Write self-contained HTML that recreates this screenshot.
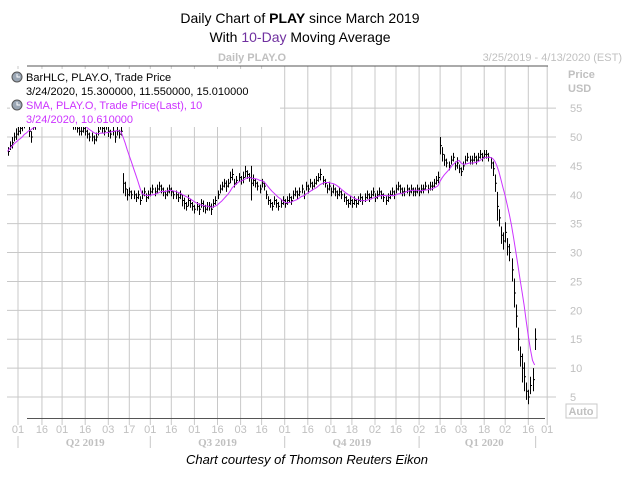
<!DOCTYPE html>
<html><head><meta charset="utf-8">
<style>
body{margin:0;background:#fff;width:629px;height:478px;overflow:hidden;font-family:"Liberation Sans",sans-serif}
svg{display:block}
</style></head>
<body>
<svg id="chart" width="629" height="478" xmlns="http://www.w3.org/2000/svg">
<text x="300" y="23" text-anchor="middle" font-size="14" fill="#000">Daily Chart of <tspan font-weight="bold">PLAY</tspan> since March 2019</text>
<text x="300" y="42" text-anchor="middle" font-size="14" fill="#000">With <tspan fill="#7030a0">10-Day</tspan> Moving Average</text>
<text x="252" y="61" text-anchor="middle" font-size="11" font-weight="bold" fill="#c0c0c0">Daily PLAY.O</text>
<text x="622" y="61" text-anchor="end" font-size="11" fill="#c0c0c0">3/25/2019 - 4/13/2020 (EST)</text>
<text x="568" y="78" font-size="11" font-weight="bold" fill="#c0c0c0">Price</text>
<text x="568" y="92" font-size="11" font-weight="bold" fill="#c0c0c0">USD</text>
<g id="grid"></g>
<g id="bars"></g>
<path id="sma" fill="none" stroke="#cc33ff" stroke-width="1"/>
<g id="axes"></g>
<rect x="10" y="69" width="270" height="58" fill="#fff"/>
<g>
<circle cx="17" cy="77" r="5" fill="#9aa6b4" stroke="#555" stroke-width="1"/>
<path d="M17 74v3h3" stroke="#fff" fill="none"/>
<text x="26" y="81" font-size="11" fill="#000">BarHLC, PLAY.O, Trade Price</text>
<text x="26" y="95" font-size="11" fill="#000">3/24/2020, 15.300000, 11.550000, 15.010000</text>
<circle cx="17" cy="105" r="5" fill="#9aa6b4" stroke="#555" stroke-width="1"/>
<path d="M17 102v3h3" stroke="#fff" fill="none"/>
<text x="26" y="109" font-size="11" fill="#cc33ff">SMA, PLAY.O, Trade Price(Last),  10</text>
<text x="26" y="123" font-size="11" fill="#cc33ff">3/24/2020, 10.610000</text>
</g>
<rect x="566" y="404" width="31" height="14" fill="#fff" stroke="#c8c8c8"/>
<text x="581" y="415" text-anchor="middle" font-size="11" font-weight="bold" fill="#c0c0c0">Auto</text>
<text x="307" y="464" text-anchor="middle" font-size="13" font-style="italic" fill="#000">Chart courtesy of Thomson Reuters Eikon</text>
</svg>
<script>
const closes=[47.5,48.5,49,50,50.5,51,51.5,52,54,53,
51,50,52,52,53,53.5,54,54,53.5,54,
54.5,55,54,53.5,54,54.5,55,54,53.5,53,
52.5,52,52,51.5,51,51,51.5,51,50.5,50,
50,49.5,50,51,52,51.5,51,52,51,50.5,
51,50,51,50.5,51,42,41,40,40.5,40,
40,39.5,40,39,40,40.5,39.5,40,40.5,41,
40.5,41,41.5,41,40.5,40,40.5,41,40.5,40,
40,39.5,40,39,38.5,38,39,38.5,38,37.5,
38,37.5,38.5,38,37.5,38,38,37.5,38.5,39,
40,41,41.5,42,41.5,42,43,43.5,42,42.5,
43,42.5,43,44,43.5,43,42,42.5,42,41.5,
41,42,41.5,40,39,38.5,38,39,38.5,38,
38.5,39,38.5,39,39.5,39,40,40.5,40,40.5,
41,40,41.5,41,42,41.5,42,42.5,43,43.5,
42.5,42,41,41.5,40.5,41,40.5,40,40.5,40,
39.5,39,38.5,39,38.5,39,38.5,39,39.5,39,
39.5,40,39.5,40,40.5,39.5,40,40.5,40,39.5,
39,39.5,40,40.5,40,41,41.5,41,40.5,40.5,
41,40.5,41,40.5,40.5,41,40.5,41,41,41.5,
41,41.5,41.5,42,42.5,43,48.5,47,46,45.5,
45,46,46.5,45,45.5,44.5,44,45,46,46.5,
46,46,46.5,46,46.5,47,46.5,47,47,46.5,
45.5,44.5,42,38,36,33,32,33.5,31,30,
27,23,19,15,12,10,8.5,6,5,7,8,15];
const ranges=[1.5,1.5,2,1.5,2,1.5,2,2,5,2,
2,2,1.5,1.5,2,1.5,1.5,1.5,1.5,1.5,
1.5,1.5,1.5,1.5,1.5,1.5,1.5,1.5,1.5,1.5,
1.5,1.5,1.5,1.5,1.5,1.5,1.5,1.5,1.5,1.5,
1.5,1.5,1.5,1.5,1.5,1.5,1.5,1.5,2,1.5,
1.5,2,1.5,1.5,1.5,3.5,2.5,2,1.5,1.5,
1.5,1.5,1.5,1.5,1.5,1.5,1.5,1.5,1.5,1.5,
1.5,1.5,1.5,1.5,1.5,1.5,1.5,1.5,1.5,1.5,
1.5,1.5,1.5,2,2,1.5,2,1.5,1.5,1.5,
1.5,2,1.5,2,1.5,1.5,1.5,2,1.5,1.5,
1.5,1.5,1.5,1.5,2,1.5,2,2,1.5,1.5,
1.5,1.5,2,2,1.5,1.5,6,2,1.5,1.5,
1.5,1.5,1.5,1.5,1.5,1.5,1.5,1.5,1.5,1.5,
1.5,1.5,1.5,1.5,1.5,1.5,1.5,1.5,1.5,1.5,
1.5,1.5,1.5,1.5,1.5,1.5,1.5,1.5,1.5,2,
1.5,1.5,1.5,1.5,1.5,1.5,1.5,1.5,1.5,1.5,
1.5,1.5,1.5,1.5,1.5,1.5,1.5,1.5,1.5,1.5,
1.5,1.5,1.5,1.5,1.5,1.5,1.5,1.5,1.5,1.5,
1.5,1.5,1.5,1.5,1.5,1.5,1.5,1.5,1.5,1.5,
1.5,1.5,1.5,1.5,1.5,1.5,1.5,1.5,1.5,1.5,
1.5,1.5,1.5,1.5,1.5,2,3,2.5,2,1.5,
1.5,1.5,1.5,1.5,2,1.5,1.5,1.5,1.5,1.5,
1.5,1.5,1.5,1.5,1.5,1.5,1.5,1.5,1.5,1.5,
2,2.5,3,5,3,3,3,3.5,3,3,
4,5,4,4,3.5,5,5,3,2.5,3,4,3.75];
const yTicks=[5,10,15,20,25,30,35,40,45,50,55];
const xTickLabels=["01","16","01","16","03","17","01","16","01","16","03","16","01","16","01","18","02","16","02","16","03","18","02","16","01"];
const xTickIdx=[5,16.4,26,37,48,58,68,78,89,100,111,121,132,143,154,164,175,185,196,206,216,227,237,248,257];
const quarterLabels=["Q2 2019","Q3 2019","Q4 2019","Q1 2020"];
const quarterIdx=[37,100,164,227];
const quarterSepIdx=[5,68,132,196,251.5];

const NS="http://www.w3.org/2000/svg";
const X=i=>7.5+i*2.1;
const Y=v=>397-(v-5)*(260/45);
function mk(tag,attrs,parent){const e=document.createElementNS(NS,tag);for(const k in attrs)e.setAttribute(k,attrs[k]);parent.appendChild(e);return e;}
const grid=document.getElementById('grid'),bars=document.getElementById('bars'),axes=document.getElementById('axes');
yTicks.forEach(v=>{
  const l=mk('line',{x1:7,x2:556,y1:Y(v),y2:Y(v),stroke:'#c8c8c8','stroke-width':1},grid);
  
  
  const t=mk('text',{x:570,y:Y(v)+4,'font-size':11,fill:'#c0c0c0'},axes);
  t.textContent=v;
  
  
});
xTickIdx.forEach((d,k)=>{
  const l=mk('line',{x1:X(d),x2:X(d),y1:66,y2:425,stroke:'#c8c8c8','stroke-width':1},grid);
  
  
  const t=mk('text',{x:X(d),y:433,'font-size':11,fill:'#c0c0c0','text-anchor':'middle'},axes);
  t.textContent=xTickLabels[k];
  
  
});
const topBorder=mk('line',{x1:27,x2:548,y1:66,y2:66,stroke:'#555','stroke-width':1},axes);


const bot=mk('line',{x1:27,x2:545,y1:418.5,y2:418.5,stroke:'#555','stroke-width':1},axes);


quarterLabels.forEach((q,k)=>{
  const t=mk('text',{x:X(quarterIdx[k]),y:446,'font-size':11,'font-weight':'bold',fill:'#c0c0c0','text-anchor':'middle','font-family':'Liberation Serif, serif'},axes);
  t.textContent=q;
  
  
});
quarterSepIdx.forEach(d=>{
  const l=mk('line',{x1:X(d),x2:X(d),y1:436,y2:448,stroke:'#c8c8c8'},axes);
  
  
});
closes.forEach((c,i)=>{
  const x=Math.round(X(i))+0.5,hi=c+ranges[i]/2,lo=c-ranges[i]/2;
  const g=mk('path',{d:`M${x} ${Y(hi)}V${Y(lo)}M${x} ${Y(c)}h1.5`,stroke:'#000','stroke-width':1,fill:'none'},bars);
  
  
});
let d='';
closes.forEach((c,i)=>{
  const s=closes.slice(Math.max(0,i-9),i+1);
  const a=s.reduce((p,q)=>p+q,0)/s.length;
  d+=(i?'L':'M')+X(i).toFixed(1)+' '+Y(a).toFixed(1);
});
document.getElementById('sma').setAttribute('d',d);
</script>
</body></html>
